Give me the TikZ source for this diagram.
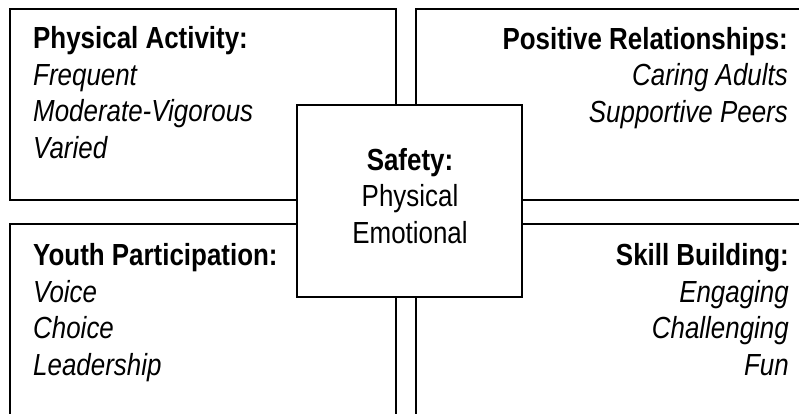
\documentclass[tikz,border=0pt]{standalone}
\usepackage{fontspec}
\setmainfont{Liberation Sans}[FakeStretch=0.85]
\usetikzlibrary{positioning}

\tikzset{
	quad/.style={line width=2pt},
	txt/.style={inner sep=0pt, font=\fontsize{30.5}{36.4}\selectfont}
}

\begin{document}
\begin{tikzpicture}[x=1pt,y=-1pt]
		%%%%% START %%%%%
		\useasboundingbox (0,0) rectangle (799,413);
		\clip (0,0) rectangle (799,413);
		
		% four outer boxes
		\draw[quad] (10,9) rectangle (396,200);
		\draw[quad] (416,9) rectangle (830,200);
		\draw[quad] (10,224) rectangle (396,440);
		\draw[quad] (416,224) rectangle (830,440);
		
		% centre box on top
		\draw[quad, fill=white] (297,105) rectangle (522,297);
		
		% base of a node = baseline of its last line
		\node[txt, align=left, anchor=base west] (activity) at (33,158)
			{\textbf{Physical Activity:}\\\textit{Frequent}\\\textit{Moderate-Vigorous}\\\textit{Varied}};
		\node[txt, align=right, anchor=base east] (relations) at (788,122)
			{\textbf{Positive Relationships:}\\\textit{Caring Adults}\\\textit{Supportive Peers}};
		\node[txt, align=left, anchor=base west] (youth) at (33,375)
			{\textbf{Youth Participation:}\\\textit{Voice}\\\textit{Choice}\\\textit{Leadership}};
		\node[txt, align=right, anchor=base east] (skill) at (789,375)
			{\textbf{Skill Building:}\\\textit{Engaging}\\\textit{Challenging}\\\textit{Fun}};
		
		\node[txt, align=center, anchor=base] (safety) at (410,243)
			{\textbf{Safety:}\\Physical\\Emotional};
		
		%%%%% END %%%%%
	\end{tikzpicture}
\end{document}
